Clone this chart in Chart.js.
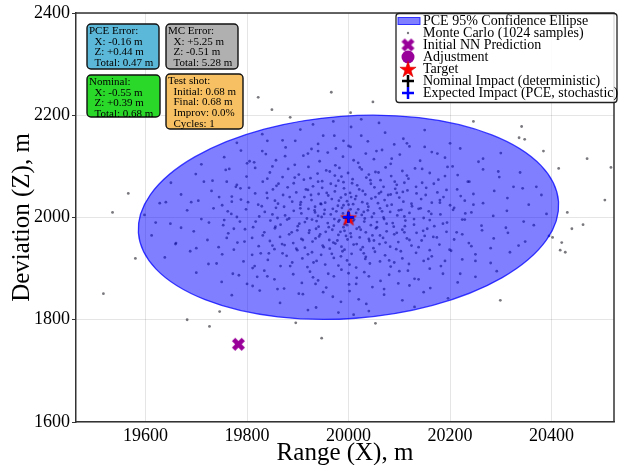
<!DOCTYPE html>
<html>
<head>
<meta charset="utf-8">
<script src="https://cdn.jsdelivr.net/npm/chart.js@4.4.1/dist/chart.umd.min.js"></script>
<style>
html, body { margin: 0; padding: 0; background: #fff; }
#wrap { width: 622px; height: 465px; position: relative; }
</style>
</head>
<body>
<div id="wrap"><canvas id="impactChart"></canvas></div>
<script>
const FONT = "'Liberation Serif', 'DejaVu Serif', serif";

// axes
const xTicks = [19600, 19800, 20000, 20200, 20400];
const yTicks = [1600, 1800, 2000, 2200, 2400];
const xRange = [19463, 20523];
const yRange = [1600, 2400];

// key points (m)
const target = [20000, 2000];
const initialNN = [19783, 1752];
const adjustment = [];
const nominalImpact = [19999.45, 2000.39];
const expectedImpact = [19999.84, 2000.44];

// PCE 95% ellipse: centre, semi-axes (m), tilt (deg)
const ellipseCenter = [19999.84, 2000.44];
const ellipseAxes = [415, 198];
const ellipseTilt = 4.2;

// Monte Carlo samples, offset from target [dX, dZ] in m
const mcSamples = [
  [-402,5],[-351,-12],[-318,14],[-290,-3],[-266,18],[-247,-15],[-231,7],[-214,-8],[-202,16],[-188,-19],[-176,2],[-165,11],[-154,-6],[-143,19],[-134,-14],[-125,4],[-117,-2],[-108,13],[-100,-17],[-93,8],[-86,-9],[-79,17],[-72,-4],[-66,10],[-59,-18],[-53,1],[-47,15],[-41,-11],[-35,6],[-29,-16],[-24,12],[-18,-5],[-13,19],[-7,-13],[-2,3],[4,16],[9,-7],[15,9],[21,-19],[26,5],[32,-2],[38,14],[44,-15],[50,8],[56,-9],[62,18],[69,0],[75,-12],[82,11],[89,-18],[96,4],[104,15],[112,-6],[120,9],[129,-14],[138,17],[148,-1],[158,12],[169,-17],[181,6],[194,-10],[208,19],[224,-4],[242,10],[262,-16],[285,3],[312,13],[345,-8],[390,7],
  [-140,-1],[-60,3],[-20,-8],[30,11],[70,-3],[110,2],[-95,18],[160,-5],[-220,1],[230,8],[-10,-19],
  [-372,28],[-330,45],[-296,33],[-270,52],[-249,24],[-230,41],[-213,57],[-198,30],[-184,47],[-171,22],[-160,38],[-149,55],[-139,27],[-129,44],[-120,59],[-111,31],[-103,49],[-95,25],[-87,40],[-80,54],[-73,34],[-66,21],[-59,46],[-52,58],[-46,29],[-40,43],[-33,36],[-27,51],[-21,23],[-15,39],[-9,57],[-3,32],[3,48],[9,26],[15,42],[21,55],[27,30],[33,45],[39,21],[45,37],[51,59],[58,28],[64,50],[71,34],[78,44],[85,25],[92,56],[100,39],[108,31],[116,53],[125,22],[134,47],[143,36],[153,58],[164,29],[175,49],[187,40],[200,24],[214,55],[229,33],[246,46],[265,28],[287,52],[313,38],[343,57],[380,44],
  [-145,33],[-55,27],[5,40],[60,47],[-230,31],[180,34],[-10,24],[95,48],
  [-388,-35],[-341,-52],[-305,-27],[-278,-44],[-256,-58],[-237,-31],[-219,-49],[-204,-23],[-190,-40],[-177,-56],[-166,-29],[-155,-46],[-145,-21],[-135,-38],[-126,-54],[-117,-33],[-109,-50],[-101,-25],[-93,-42],[-86,-59],[-78,-30],[-71,-47],[-64,-22],[-58,-37],[-51,-55],[-45,-28],[-38,-44],[-32,-24],[-26,-51],[-20,-34],[-14,-57],[-8,-26],[-2,-43],[4,-31],[10,-53],[16,-22],[22,-39],[28,-58],[34,-29],[41,-46],[47,-35],[54,-21],[61,-52],[68,-40],[75,-27],[82,-57],[90,-33],[98,-48],[106,-24],[115,-41],[124,-55],[134,-30],[144,-45],[155,-22],[167,-38],[179,-53],[193,-28],[208,-43],[224,-33],[242,-56],[263,-25],[286,-41],[314,-30],[348,-47],[395,-36],
  [-150,-55],[-65,-41],[-5,-36],[50,-45],[-240,-40],[150,-36],[-30,-49],[110,-29],
  [-350,68],[-301,85],[-268,72],[-242,93],[-220,64],[-201,80],[-184,97],[-169,70],[-155,88],[-142,62],[-130,79],[-119,95],[-108,67],[-98,84],[-88,74],[-79,99],[-70,61],[-61,86],[-52,71],[-44,92],[-35,66],[-27,82],[-18,97],[-10,69],[-1,87],[8,75],[17,63],[26,94],[35,78],[44,66],[53,89],[63,73],[73,98],[84,81],[95,64],[106,91],[118,76],[131,96],[145,68],[160,87],[177,74],[195,99],[215,83],[238,70],[265,94],[297,79],[338,88],
  [-75,77],[-20,72],[40,84],[-160,76],[110,68],[190,81],[-240,70],
  [-362,-78],[-312,-66],[-276,-91],[-249,-72],[-226,-63],[-207,-86],[-189,-99],[-173,-70],[-159,-83],[-146,-62],[-134,-95],[-122,-75],[-111,-88],[-101,-64],[-91,-80],[-81,-97],[-72,-68],[-63,-85],[-54,-73],[-46,-92],[-37,-61],[-29,-79],[-20,-94],[-12,-66],[-3,-84],[6,-71],[15,-98],[24,-63],[33,-81],[42,-90],[52,-67],[62,-86],[72,-74],[83,-96],[94,-62],[106,-80],[119,-91],[133,-69],[148,-85],[164,-76],[182,-95],[202,-65],[224,-82],[250,-72],[280,-89],[318,-68],
  [-80,-72],[-15,-76],[30,-70],[-190,-73],[90,-88],[160,-64],[-130,-70],
  [-290,104],[-245,118],[-212,131],[-186,108],[-163,124],[-143,112],[-124,137],[-106,103],[-89,121],[-73,134],[-57,110],[-41,127],[-26,102],[-11,119],[4,138],[19,107],[34,125],[50,114],[66,132],[83,105],[101,123],[120,139],[141,111],[164,128],[190,117],[220,135],[256,109],[300,126],
  [-60,130],[10,112],[150,138],[-200,106],
  [-300,-108],[-250,-126],[-216,-113],[-189,-134],[-166,-104],[-146,-121],[-127,-139],[-109,-111],[-92,-128],[-76,-106],[-60,-123],[-44,-137],[-29,-115],[-14,-102],[1,-131],[16,-118],[31,-107],[47,-136],[63,-124],[80,-112],[98,-129],[117,-104],[138,-121],[161,-138],[186,-110],[215,-127],[250,-116],[292,-105],
  [-70,-117],[0,-109],[120,-133],[-180,-116],
  [-220,146],[-170,163],[-130,151],[-95,172],[-60,144],[-28,160],[5,177],[38,149],[72,166],[108,154],[150,171],[200,145],[-10,150],[90,143],[-160,150],
  [-230,-152],[-175,-143],[-135,-167],[-98,-149],[-64,-176],[-31,-155],[2,-144],[35,-169],[70,-151],[106,-162],[148,-146],[196,-158],[-50,-146],[20,-160],[130,-175],
  [-30,188],[25,192],[-70,182],[60,185],[-20,-186],[40,-183],[-80,-181],[10,-190],
  [-238,12],[-226,-22],[-212,35],[-205,-47],[-196,58],[-183,-8],[-178,25],[-169,-35],[-161,48],[-157,-70],[-150,6],[-144,-18],[-138,66],[-131,-52],[-127,21],[-121,-4],[-116,40],[-112,-29],[-106,78],[-103,-61],[-97,-12],[-94,30],[-90,-44],[-84,55],[-82,-2],[-77,-25],[-74,44],[-69,-88],[-67,14],[-63,-7],[-60,70],[-56,-33],[-54,26],[-49,-58],[-48,7],[-43,48],[-39,-19],[-37,90],[-33,-71],[-31,17],[-28,-3],[-25,62],[-22,-45],[-19,33],[-16,-28],[-14,80],[-11,8],[-8,-63],[-6,45],[-3,-15],[0,25],[2,-92],[5,-38],[7,67],[11,-4],[13,36],[16,-52],[19,16],[22,98],[24,-24],[28,52],[31,-8],[34,-77],[37,27],[40,-42],[43,73],[46,1],[49,-60],[53,40],[56,-19],[59,88],[62,-35],[66,12],[69,60],[73,-49],[76,23],[80,-84],[83,45],[87,-11],[91,70],[95,-30],[99,14],[103,-66],[107,50],[111,-17],[115,82],[120,-44],[124,27],[129,-3],[133,60],[138,-58],[142,18],[147,-26],[152,44],[157,-81],[163,7],[168,66],[174,-39],[180,29],[186,-12],[193,54],[199,-63],[206,15],[213,-29],[221,42],[229,-4],[237,-50],[246,25],
  [-330,-20],[-310,30],[-300,-60],[-285,70],[-275,-10],[-260,-90],[-255,40],[-245,-5],[-235,95],[-228,-110],[-222,60],[-200,-130],[-195,110],[-185,-95],[-170,130],[-160,-115],[-150,100],[-140,-140],[-125,120],[-115,-95],[-105,150],[-90,-150],[-80,125],[-65,-130],[-50,160],[-40,-110],[-25,135],[-15,-165],[0,140],[15,-130],[25,160],[40,-115],[55,130],[70,-140],[85,115],[100,-105],[115,145],[130,-120],[145,95],[160,-100],[175,125],[190,-85],[205,100],[220,-110],[235,70],[250,-85],[265,115],[280,-60],[295,90],[310,-20],[325,60],[335,-55],[355,25],[365,-15],[370,60],[-380,-10],[-360,30],[-340,-50],
  // outside the ellipse
  [-178,235],[-34,245],[-151,211],[-115,196],[-434,47],[-465,10],[-420,-80],[-483,-149],[-318,-200],[-254,-184],[-274,-213],[-104,-206],[-53,-236],[48,226],[4,205],[246,188],[341,178],[336,156],[347,153],[384,130],[470,115],[517,98],[414,96],[505,34],[440,-22],[462,-14],[402,-39],[420,-49],[417,-64],[427,-68],[299,-162],[53,-207],[431,10]
];

// legend + text boxes
const legendLabels = [
  'PCE 95% Confidence Ellipse',
  'Monte Carlo (1024 samples)',
  'Initial NN Prediction',
  'Adjustment',
  'Target',
  'Nominal Impact (deterministic)',
  'Expected Impact (PCE, stochastic)'
];
const pceErrorLines = ['PCE Error:', '  X: -0.16 m', '  Z: +0.44 m', '  Total: 0.47 m'];
const mcErrorLines = ['MC Error:', '  X: +5.25 m', '  Z: -0.51 m', '  Total: 5.28 m'];
const nominalLines = ['Nominal:', '  X: -0.55 m', '  Z: +0.39 m', '  Total: 0.68 m'];
const testShotLines = ['Test shot:', '  Initial: 0.68 m', '  Final: 0.68 m', '  Improv: 0.0%', '  Cycles: 1'];

const PURPLE = '#990099';
const MC_COLOR = 'rgba(30,30,40,0.6)';

// marker images
function makeStar(r, fill) {
    const s = Math.ceil(r * 2 + 3);
    const c = document.createElement('canvas');
    c.width = c.height = s;
    const g = c.getContext('2d');
    g.translate(s / 2, s / 2 + r * 0.1);
    g.beginPath();
    for (let i = 0; i < 10; i++) {
        const rr = i % 2 ? r * 0.382 : r;
        const a = -Math.PI / 2 + i * Math.PI / 5;
        const px = rr * Math.cos(a), py = rr * Math.sin(a);
        if (i === 0) g.moveTo(px, py); else g.lineTo(px, py);
    }
    g.closePath();
    g.fillStyle = fill;
    g.fill();
    g.lineWidth = 0.6;
    g.strokeStyle = '#cc0000';
    g.stroke();
    return c;
}

function makeX(size, color) {
    const s = Math.ceil(size + 2);
    const c = document.createElement('canvas');
    c.width = c.height = s;
    const g = c.getContext('2d');
    const lw = size * 0.36;
    const h = size / 2 - lw * 0.35;
    g.translate(s / 2, s / 2);
    g.strokeStyle = color;
    g.lineWidth = lw;
    g.beginPath();
    g.moveTo(-h, -h); g.lineTo(h, h);
    g.moveTo(-h, h); g.lineTo(h, -h);
    g.stroke();
    return c;
}

const starImg = makeStar(8.5, '#ff0000');
const xImg = makeX(13, PURPLE);

const toXY = p => ({ x: p[0], y: p[1] });

// ellipse drawn right after the MC cloud
const ellipsePlugin = {
    id: 'ellipse',
    afterDatasetDraw(chart, args) {
        if (args.index !== 0) return;
        const { ctx, scales: { x, y } } = chart;
        const cx = x.getPixelForValue(ellipseCenter[0]);
        const cy = y.getPixelForValue(ellipseCenter[1]);
        const sx = x.getPixelForValue(ellipseCenter[0] + 1) - cx;
        const sy = cy - y.getPixelForValue(ellipseCenter[1] + 1);
        ctx.save();
        ctx.translate(cx, cy);
        ctx.scale(sx, -sy);
        ctx.rotate(ellipseTilt * Math.PI / 180);
        ctx.beginPath();
        ctx.ellipse(0, 0, ellipseAxes[0], ellipseAxes[1], 0, 0, Math.PI * 2);
        ctx.restore();
        ctx.save();
        ctx.fillStyle = 'rgba(0, 0, 255, 0.5)';
        ctx.fill();
        ctx.lineWidth = 1.3;
        ctx.strokeStyle = 'rgba(0, 0, 255, 0.75)';
        ctx.stroke();
        ctx.restore();
    }
};

function drawTextBox(ctx, lines, x, y, w, h, color) {
    ctx.save();
    ctx.beginPath();
    ctx.roundRect(x, y, w, h, 4);
    ctx.fillStyle = color;
    ctx.fill();
    ctx.lineWidth = 1.4;
    ctx.strokeStyle = '#111';
    ctx.stroke();
    ctx.fillStyle = '#000';
    ctx.font = '11px ' + FONT;
    ctx.textBaseline = 'middle';
    lines.forEach((t, i) => ctx.fillText(t, x + 2, y + 7 + i * 10.7));
    ctx.restore();
}

function drawPlus(ctx, cx, cy, r, color, lw) {
    ctx.save();
    ctx.strokeStyle = color;
    ctx.lineWidth = lw;
    ctx.beginPath();
    ctx.moveTo(cx - r, cy); ctx.lineTo(cx + r, cy);
    ctx.moveTo(cx, cy - r); ctx.lineTo(cx, cy + r);
    ctx.stroke();
    ctx.restore();
}

const overlayPlugin = {
    id: 'overlay',
    afterDraw(chart) {
        const { ctx, chartArea: a } = chart;
        // top / right spines
        ctx.save();
        ctx.strokeStyle = '#333';
        ctx.lineWidth = 1.5;
        ctx.beginPath();
        ctx.moveTo(a.left, a.top); ctx.lineTo(a.right, a.top); ctx.lineTo(a.right, a.bottom);
        ctx.stroke();
        ctx.restore();

        // annotation boxes
        const L = a.left, T = a.top;
        drawTextBox(ctx, pceErrorLines, L + 11, T + 11, 72, 45, '#5cb8d8');
        drawTextBox(ctx, mcErrorLines, L + 90, T + 11, 72, 45, '#b0b0b0');
        drawTextBox(ctx, nominalLines, L + 11, T + 62, 73, 42, '#2ad82a');
        drawTextBox(ctx, testShotLines, L + 90, T + 61, 77, 55, '#f6c063');

        // legend
        const lx = 396, ly = a.top + 0.5, lw = 221, lh = 89;
        ctx.save();
        ctx.beginPath();
        ctx.roundRect(lx, ly, lw, lh, 3);
        ctx.fillStyle = 'rgba(255,255,255,0.85)';
        ctx.fill();
        ctx.lineWidth = 1.3;
        ctx.strokeStyle = '#222';
        ctx.stroke();
        ctx.restore();

        const hx = 408, tx = 423, row0 = a.top + 8, step = 12;
        ctx.save();
        // handles
        ctx.fillStyle = 'rgba(0,0,255,0.5)';
        ctx.strokeStyle = 'rgba(0,0,255,0.75)';
        ctx.lineWidth = 1;
        ctx.fillRect(398, row0 - 3.5, 22, 7);
        ctx.strokeRect(398, row0 - 3.5, 22, 7);
        ctx.fillStyle = MC_COLOR;
        ctx.beginPath(); ctx.arc(hx, row0 + step, 1.2, 0, Math.PI * 2); ctx.fill();
        ctx.drawImage(xImg, hx - xImg.width / 2, row0 + 2 * step - xImg.height / 2);
        ctx.fillStyle = PURPLE;
        ctx.beginPath(); ctx.arc(hx, row0 + 3 * step, 6.5, 0, Math.PI * 2); ctx.fill();
        ctx.drawImage(starImg, hx - starImg.width / 2, row0 + 4 * step - starImg.height / 2);
        drawPlus(ctx, hx, row0 + 5 * step, 6, '#000', 2.5);
        drawPlus(ctx, hx, row0 + 6 * step, 6, '#0000ff', 2.5);
        // labels
        ctx.fillStyle = '#000';
        ctx.font = '14px ' + FONT;
        ctx.textBaseline = 'middle';
        legendLabels.forEach((t, i) => ctx.fillText(t, tx, row0 + i * step));
        ctx.restore();
    }
};

const ctx = document.getElementById('impactChart').getContext('2d');
const chart = new Chart(ctx, {
    type: 'scatter',
    data: {
        datasets: [
            {
                label: legendLabels[1],
                data: mcSamples.map(d => ({ x: target[0] + d[0], y: target[1] + d[1] })),
                backgroundColor: MC_COLOR,
                borderWidth: 0,
                pointRadius: 1.4,
                order: 6
            },
            {
                label: legendLabels[2],
                data: [toXY(initialNN)],
                pointStyle: xImg,
                order: 5
            },
            {
                label: legendLabels[3],
                data: adjustment.map(toXY),
                backgroundColor: PURPLE,
                pointRadius: 6.5,
                order: 4
            },
            {
                label: legendLabels[4],
                data: [toXY(target)],
                pointStyle: starImg,
                order: 3
            },
            {
                label: legendLabels[5],
                data: [toXY(nominalImpact)],
                pointStyle: 'cross',
                pointRadius: 5.5,
                borderColor: '#000',
                borderWidth: 2.5,
                order: 2
            },
            {
                label: legendLabels[6],
                data: [toXY(expectedImpact)],
                pointStyle: 'cross',
                pointRadius: 5.5,
                borderColor: '#0000ff',
                borderWidth: 2.5,
                order: 1
            }
        ]
    },
    options: {
        responsive: true,
        maintainAspectRatio: false,
        devicePixelRatio: 1,
        animation: false,
        layout: { padding: { top: 13, right: 2, left: 0, bottom: 0 } },
        plugins: {
            legend: { display: false },
            tooltip: { enabled: false }
        },
        scales: {
            x: {
                type: 'linear',
                min: xRange[0],
                max: xRange[1],
                afterBuildTicks: s => { s.ticks = xTicks.map(v => ({ value: v })); },
                afterFit: s => { s.height = 43; },
                ticks: {
                    color: '#000',
                    font: { family: FONT, size: 18 },
                    padding: 3,
                    maxRotation: 0,
                    callback: v => String(v)
                },
                grid: { color: 'rgba(0,0,0,0.1)', drawTicks: false },
                border: { display: true, color: '#333', width: 1.5 },
                title: {
                    display: true,
                    text: 'Range (X), m',
                    color: '#000',
                    font: { family: FONT, size: 25, lineHeight: 1 },
                    padding: { top: 0, bottom: -1 }
                }
            },
            y: {
                type: 'linear',
                min: yRange[0],
                max: yRange[1],
                afterBuildTicks: s => { s.ticks = yTicks.map(v => ({ value: v })); },
                afterFit: s => { s.width = 76; },
                ticks: {
                    color: '#000',
                    font: { family: FONT, size: 18 },
                    padding: 2,
                    callback: v => String(v)
                },
                grid: { color: 'rgba(0,0,0,0.1)', tickLength: 4, tickColor: '#333' },
                border: { display: true, color: '#333', width: 1.5 },
                title: {
                    display: true,
                    text: 'Deviation (Z), m',
                    color: '#000',
                    font: { family: FONT, size: 25, lineHeight: 1 },
                    padding: { top: 10, bottom: 0 }
                }
            }
        }
    },
    plugins: [ellipsePlugin, overlayPlugin]
});
</script>
</body>
</html>
